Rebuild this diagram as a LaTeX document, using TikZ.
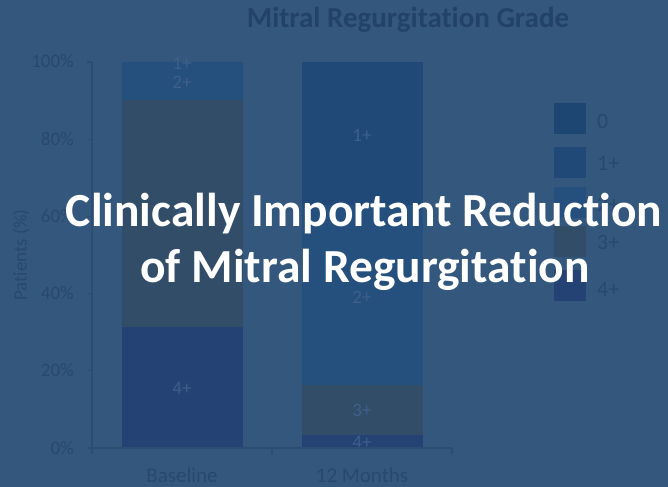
\documentclass[tikz,border=0pt]{standalone}
\usepackage{fontspec}
\setmainfont{Carlito}[Ligatures=NoCommon]
\definecolor{bgc}{RGB}{52,87,125}
\definecolor{titlec}{RGB}{35,66,106}
\definecolor{axisc}{RGB}{40,72,112}
\definecolor{axline}{RGB}{44,76,114}
\definecolor{gzero}{RGB}{30,70,115}
\definecolor{gone}{RGB}{32,73,119}
\definecolor{gtwo}{RGB}{37,79,124}
\definecolor{gthree}{RGB}{50,77,104}
\definecolor{gfour}{RGB}{36,66,116}
\definecolor{barlab}{RGB}{62,95,138}
\tikzset{
  seg/.style={draw=none},
  ticklab/.style={anchor=base east, inner sep=0pt, text=axisc, font=\fontsize{19bp}{21bp}\selectfont},
  xlab/.style={anchor=base, inner sep=0pt, text=axisc, font=\fontsize{21bp}{23bp}\selectfont},
  barlabel/.style={inner sep=0pt, text=barlab, font=\fontsize{19bp}{21bp}\selectfont},
  legbox/.style={draw=none, minimum width=32bp, minimum height=31bp, inner sep=0pt},
  leglab/.style={anchor=west, inner sep=0pt, text=axisc, font=\fontsize{22bp}{24bp}\selectfont},
  axln/.style={draw=axline, line width=1.2bp},
  bigtext/.style={text=white, inner sep=0pt, anchor=base, font=\bfseries\fontsize{47.5bp}{50bp}\selectfont}
}
\begin{document}
\begin{tikzpicture}[x=1bp,y=-1bp]
\fill[bgc] (0,0) rectangle (668,487);
\useasboundingbox (0,0) rectangle (668,487);
% title
\node[anchor=base, inner sep=0pt, text=titlec, font=\bfseries\fontsize{29bp}{32bp}\selectfont] (title) at (408,28) {Mitral Regurgitation Grade};
% bars baseline
\fill[gfour] (122,327) rectangle (243,448);
\fill[gthree] (122,100) rectangle (243,327);
\fill[gtwo] (122,62) rectangle (243,100);
% bars 12 months
\fill[gfour] (302,435) rectangle (423,448);
\fill[gthree] (302,385) rectangle (423,435);
\fill[gtwo] (302,205) rectangle (423,385);
\fill[gone] (302,62) rectangle (423,205);
% bar labels
\node[barlabel] (b4) at (182,388) {4+};
\node[barlabel] (b3) at (182,213) {3+};
\node[barlabel] (b2) at (182,82) {2+};
\node[barlabel] (b1) at (182,63) {1+};
\node[barlabel] (m1) at (362,135) {1+};
\node[barlabel] (m2) at (362,297) {2+};
\node[barlabel] (m3) at (362,410) {3+};
\node[barlabel] (m4) at (362,442) {4+};
% axes
\draw[axln] (92,62) -- (92,448) -- (452,448);
\foreach \yy in {62,139.2,216.4,293.6,370.8,448} \draw[axln] (87,\yy) -- (92,\yy);
\foreach \xx in {92,272,452} \draw[axln] (\xx,448) -- (\xx,454);
\node[ticklab] (t100) at (74,68) {100\%};
\node[ticklab] (t80) at (74,145.2) {80\%};
\node[ticklab] (t60) at (74,222.4) {60\%};
\node[ticklab] (t40) at (74,299.6) {40\%};
\node[ticklab] (t20) at (74,376.8) {20\%};
\node[ticklab] (t0) at (74,454) {0\%};
\node[rotate=90, inner sep=0pt, text=axisc, font=\fontsize{19bp}{21bp}\selectfont] (ylab) at (21,255) {Patients (\%)};
\node[xlab] (xb) at (182,482) {Baseline};
\node[xlab] (xm) at (362,482) {12 Months};
% legend
\node[legbox, fill=gzero, anchor=north west] (l0) at (554,103) {};
\node[legbox, fill=gone, anchor=north west] (l1) at (554,147) {};
\node[legbox, fill=gtwo, anchor=north west] (l2) at (554,187) {};
\node[legbox, fill=gthree, anchor=north west] (l3) at (554,226) {};
\node[legbox, fill=gfour, anchor=north west] (l4) at (554,270) {};
\node[leglab] (ll0) at (597,121) {0};
\node[leglab] (ll1) at (597,163) {1+};
\node[leglab] (ll2) at (597,204) {2+};
\node[leglab] (ll3) at (597,242) {3+};
\node[leglab] (ll4) at (597,289) {4+};
% overlay text
\node[bigtext] (big1) at (364,227) {Clinically Important Reduction};
\node[bigtext] (big2) at (365,282) {of Mitral Regurgitation};
\end{tikzpicture}
\end{document}
